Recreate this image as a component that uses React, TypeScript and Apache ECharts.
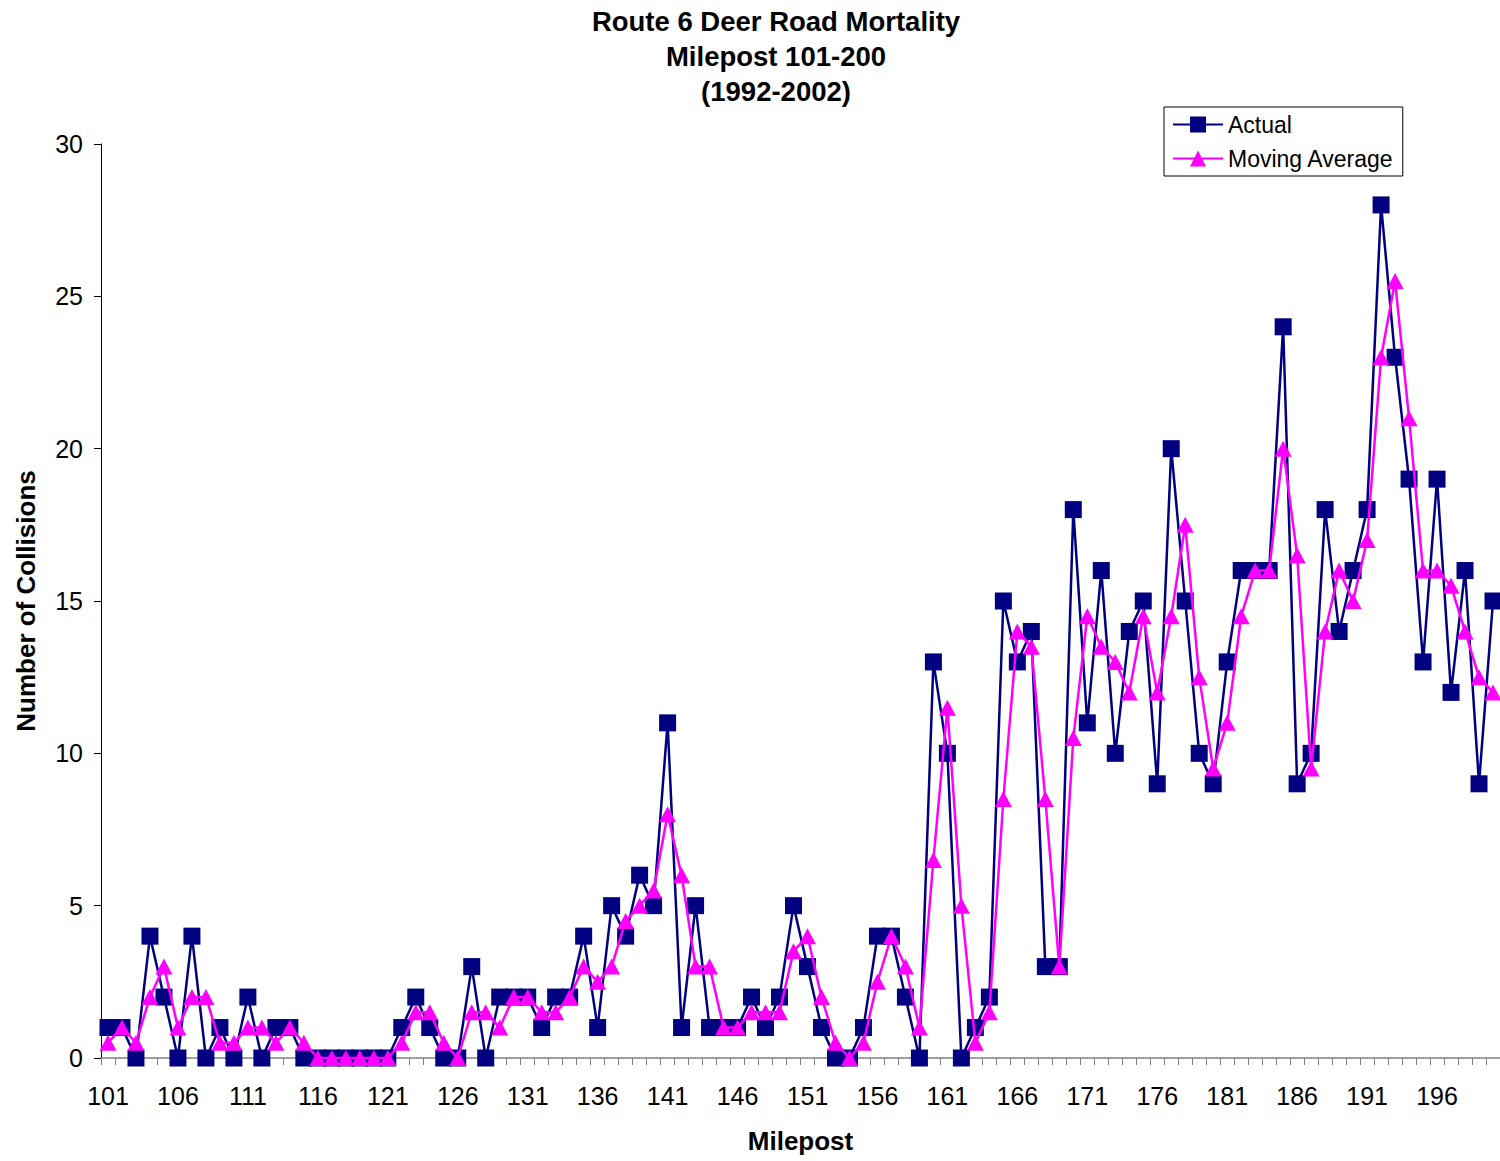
import React, { useEffect, useRef } from "react";
import * as echarts from "echarts";

const mileposts: string[] = [];
for (let m = 101; m <= 200; m++) mileposts.push(String(m));

const actual: number[] = [
  1, 1, 0, 4, 2, 0, 4, 0, 1, 0,
  2, 0, 1, 1, 0, 0, 0, 0, 0, 0,
  0, 1, 2, 1, 0, 0, 3, 0, 2, 2,
  2, 1, 2, 2, 4, 1, 5, 4, 6, 5,
  11, 1, 5, 1, 1, 1, 2, 1, 2, 5,
  3, 1, 0, 0, 1, 4, 4, 2, 0, 13,
  10, 0, 1, 2, 15, 13, 14, 3, 3, 18,
  11, 16, 10, 14, 15, 9, 20, 15, 10, 9,
  13, 16, 16, 16, 24, 9, 10, 18, 14, 16,
  18, 28, 23, 19, 13, 19, 12, 16, 9, 15,
];

const movingAverage: number[] = [
  0.5, 1, 0.5, 2, 3, 1, 2, 2, 0.5, 0.5,
  1, 1, 0.5, 1, 0.5, 0, 0, 0, 0, 0,
  0, 0.5, 1.5, 1.5, 0.5, 0, 1.5, 1.5, 1, 2,
  2, 1.5, 1.5, 2, 3, 2.5, 3, 4.5, 5, 5.5,
  8, 6, 3, 3, 1, 1, 1.5, 1.5, 1.5, 3.5,
  4, 2, 0.5, 0, 0.5, 2.5, 4, 3, 1, 6.5,
  11.5, 5, 0.5, 1.5, 8.5, 14, 13.5, 8.5, 3, 10.5,
  14.5, 13.5, 13, 12, 14.5, 12, 14.5, 17.5, 12.5, 9.5,
  11, 14.5, 16, 16, 20, 16.5, 9.5, 14, 16, 15,
  17, 23, 25.5, 21, 16, 16, 15.5, 14, 12.5, 12,
];

const FONT = "'Liberation Sans', Arial, sans-serif";

export default function App() {
  const ref = useRef<HTMLDivElement>(null);
  useEffect(() => {
    if (!ref.current) return;
    const chart = echarts.init(ref.current, null, { renderer: "svg" });
    chart.setOption({
      animation: false,
      backgroundColor: "#ffffff",
      textStyle: { fontFamily: FONT },
      title: {
        text: "Route 6 Deer Road Mortality\nMilepost 101-200\n(1992-2002)",
        left: 776,
        top: 4,
        textAlign: "center",
        padding: 0,
        textStyle: {
          fontFamily: FONT,
          fontSize: 27.5,
          fontWeight: "bold",
          lineHeight: 35,
          color: "#000",
        },
      },
      legend: {
        orient: "vertical",
        left: 1164,
        top: 107,
        padding: [6, 9, 6, 8],
        itemGap: 11,
        itemWidth: 50,
        itemHeight: 20,
        borderColor: "#000",
        borderWidth: 1,
        backgroundColor: "#fff",
        textStyle: { fontFamily: FONT, fontSize: 23, color: "#000" },
        data: ["Actual", "Moving Average"],
      },
      grid: { left: 101, right: 0, top: 144, bottom: 103, containLabel: false },
      xAxis: {
        type: "category",
        data: mileposts,
        boundaryGap: true,
        name: "Milepost",
        nameLocation: "middle",
        nameGap: 70,
        nameTextStyle: { fontFamily: FONT, fontSize: 26, fontWeight: "bold", color: "#000" },
        axisLine: { lineStyle: { color: "#808080", width: 1.5 } },
        axisTick: { show: true, interval: 0, length: 7, lineStyle: { color: "#808080" } },
        axisLabel: {
          interval: 4,
          margin: 25,
          fontFamily: FONT,
          fontSize: 25,
          color: "#000",
        },
        splitLine: { show: false },
      },
      yAxis: {
        type: "value",
        min: 0,
        max: 30,
        interval: 5,
        name: "Number of Collisions",
        nameLocation: "middle",
        nameRotate: 90,
        nameGap: 62,
        nameTextStyle: { fontFamily: FONT, fontSize: 26, fontWeight: "bold", color: "#000" },
        axisLine: { show: true, lineStyle: { color: "#000", width: 1 } },
        axisTick: { show: true, length: 7, lineStyle: { color: "#000" } },
        axisLabel: { margin: 18, fontFamily: FONT, fontSize: 25, color: "#000" },
        splitLine: { show: false },
      },
      series: [
        {
          name: "Actual",
          type: "line",
          data: actual,
          symbol: "rect",
          symbolSize: 17,
          showAllSymbol: true,
          lineStyle: { color: "#000080", width: 2.5 },
          itemStyle: { color: "#000080" },
          z: 2,
        },
        {
          name: "Moving Average",
          type: "line",
          data: movingAverage,
          symbol: "triangle",
          symbolSize: [17, 16],
          showAllSymbol: true,
          lineStyle: { color: "#ff00ff", width: 2.5 },
          itemStyle: { color: "#ff00ff" },
          z: 3,
        },
      ],
    });
    return () => chart.dispose();
  }, []);
  return (
    <div
      ref={ref}
      style={{ position: "absolute", left: 0, top: 0, width: 1500, height: 1161 }}
    />
  );
}
